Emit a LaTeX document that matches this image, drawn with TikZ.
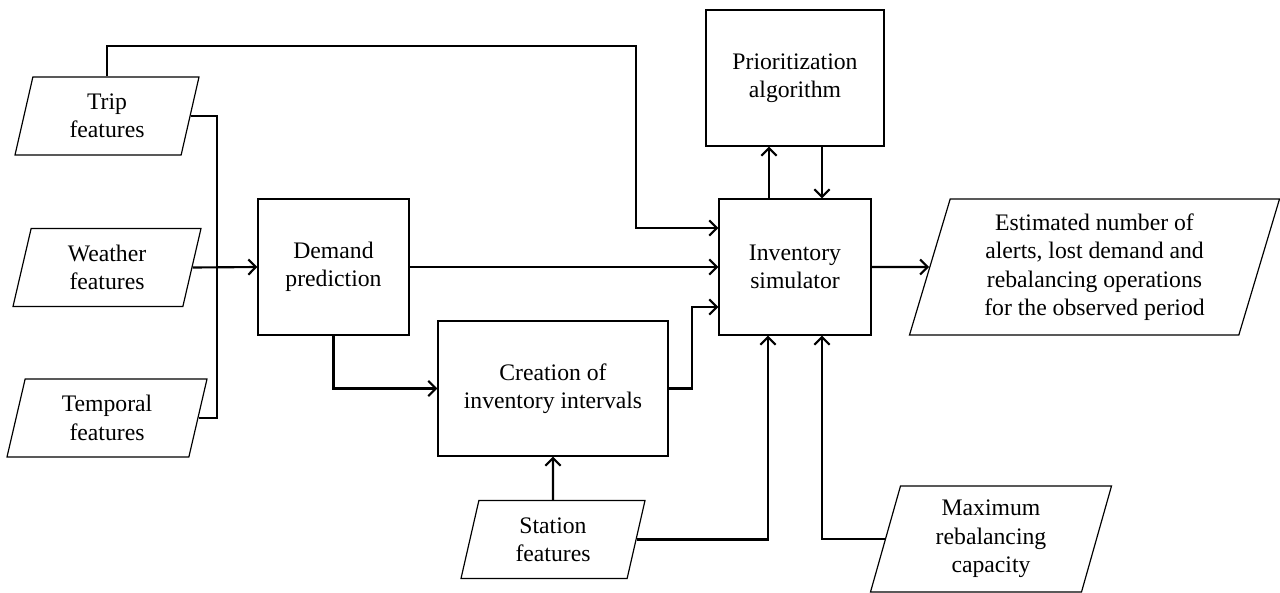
\documentclass[tikz,border=0pt]{standalone}
\usepackage{fontspec}
\setmainfont{Liberation Serif}
\usepackage{tikz}
\usetikzlibrary{positioning,calc}
\usetikzlibrary{arrows.meta,shapes.geometric}
\def\pxu{0.422pt}
\tikzset{
	block/.style={draw=black,line width=0.5pt,align=center,inner sep=2pt,
		font=\fontsize{10}{12}\selectfont},
	datain/.style={trapezium,trapezium left angle=70,trapezium right angle=110,
		trapezium stretches body,draw=black,line width=0.5pt,align=center,inner sep=1pt,
		font=\fontsize{10}{12}\selectfont},
	flow/.style={draw=black,line width=0.9pt},
	flowto/.style={flow,-{Straight Barb[length=3.2pt,width=6.4pt]}},
}
\begin{document}
\begin{tikzpicture}[x=\pxu,y=-\pxu]
	\useasboundingbox (0,0) rectangle (1280,592);
	% inputs
	\node[datain,minimum width=184*\pxu,minimum height=78*\pxu] (trip) at (107,116) {Trip\\features};
	\node[datain,minimum width=188*\pxu,minimum height=78*\pxu] (weather) at (107,267.5) {Weather\\features};
	\node[datain,minimum width=200*\pxu,minimum height=78*\pxu] (temporal) at (107,418) {Temporal\\features};
	\node[datain,minimum width=184*\pxu,minimum height=78*\pxu] (station) at (553,539.5) {Station\\features};
	\node[datain,minimum width=241*\pxu,minimum height=106*\pxu] (maxcap) at (991,539) {Maximum\\rebalancing\\capacity};
	% processing
	\node[block,minimum width=151*\pxu,minimum height=136*\pxu] (demand) at (333.5,267) {Demand\\prediction};
	\node[block,minimum width=230*\pxu,minimum height=135*\pxu] (creation) at (553,388.5) {Creation of\\inventory intervals};
	\node[block,minimum width=152*\pxu,minimum height=136*\pxu] (inv) at (795,267) {Inventory\\simulator};
	\node[block,minimum width=178*\pxu,minimum height=136*\pxu] (prior) at (795,78) {Prioritization\\algorithm};
	% output
	\node[datain,minimum width=370*\pxu,minimum height=136*\pxu] (result) at (1094.5,267)
		{Estimated number of\\alerts, lost demand and\\rebalancing operations\\for the observed period};
	\coordinate (bus) at (217,267);
	\coordinate (over) at (636,46);
	\foreach \p in {trip,temporal}
		\draw[flow] (\p.east) -| (bus);
	\draw[flowto] (weather.east) -- (demand.west);
	\draw[flowto] (trip.north) |- (over) |- ($(inv.west)+(0,-39)$);
	\draw[flowto] (demand.east) -- (inv.west);
	\draw[flowto] (demand.south) |- (creation.west);
	\draw[flowto] (creation.east) -- ++(23,0) |- ($(inv.west)+(0,40)$);
	\draw[flowto] (station.north) -- (creation.south);
	\draw[flowto] (station.east) -| ($(inv.south)+(-27,0)$);
	\draw[flowto] (maxcap.west) -| ($(inv.south)+(27,0)$);
	\draw[flowto] ($(inv.north)+(-26,0)$) -- ($(prior.south)+(-26,0)$);
	\draw[flowto] ($(prior.south)+(27,0)$) -- ($(inv.north)+(27,0)$);
	\draw[flowto] (inv.east) -- (result.west);
\end{tikzpicture}
\end{document}
